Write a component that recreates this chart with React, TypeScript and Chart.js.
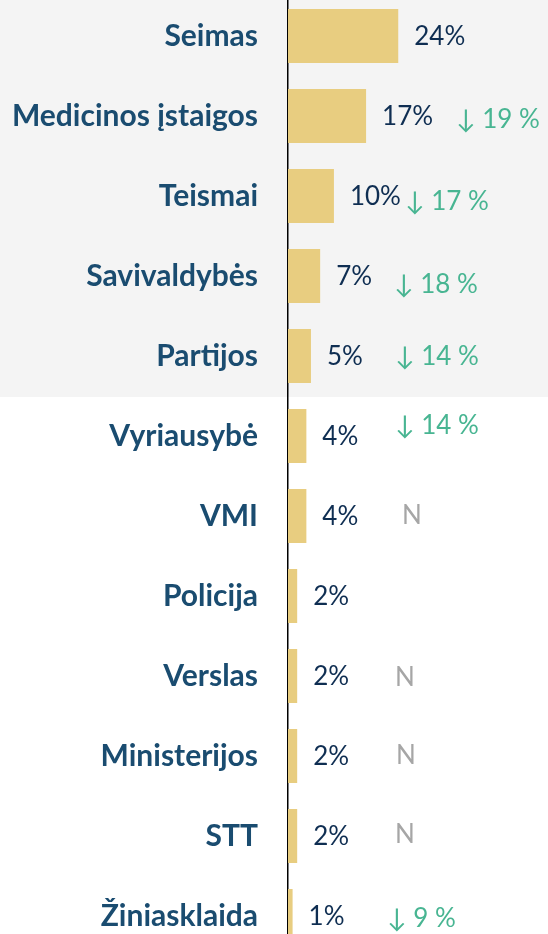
import React, { useEffect, useRef } from "react";
import { Chart, registerables } from "chart.js";

Chart.register(...registerables);

// ---- data ----
const CATEGORIES = [
  "Seimas",
  "Medicinos įstaigos",
  "Teismai",
  "Savivaldybės",
  "Partijos",
  "Vyriausybė",
  "VMI",
  "Policija",
  "Verslas",
  "Ministerijos",
  "STT",
  "Žiniasklaida",
];
const VALUES = [24, 17, 10, 7, 5, 4, 4, 2, 2, 2, 2, 1];
const VALUE_LABELS = ["24%", "17%", "10%", "7%", "5%", "4%", "4%", "2%", "2%", "2%", "2%", "1%"];
const CHANGES = ["", "↓ 19 %", "↓ 17 %", "↓ 18 %", "↓ 14 %", "↓ 14 %", "N", "", "N", "N", "N", "↓ 9 %"];
const HIGHLIGHTED_ROWS = 5;

// ---- layout / style ----
const FONT = "Lato, 'Open Sans', sans-serif";
const LABEL_COLOR = "#1A4C70";
const VALUE_COLOR = "#0F2E52";
const GREEN = "#48B592";
const GREY = "#A6A6A6";
const BAR_COLOR = "#E8CD80";
const BAND_COLOR = "#F4F4F4";
// note placement relative to the value axis origin (px) and row centre (px)
const NOTE_X = [0, 168, 117, 106, 107, 107, 114, 0, 107, 108, 107, 99];
const NOTE_DY = [0, 3, 5, 8, 0, -11, -1, 0, 1, -1, -2, 2];

const bandPlugin = {
  id: "band",
  beforeDraw(chart: any) {
    const { ctx, width } = chart;
    const y = chart.scales.y;
    const bottom = y.getPixelForValue(HIGHLIGHTED_ROWS - 0.5) + 1;
    ctx.save();
    ctx.fillStyle = BAND_COLOR;
    ctx.fillRect(0, 0, width, bottom);
    ctx.restore();
  },
};

const labelPlugin = {
  id: "labels",
  afterDatasetsDraw(chart: any) {
    const { ctx } = chart;
    const meta = chart.getDatasetMeta(0);
    const origin = chart.scales.x.getPixelForValue(0);
    ctx.save();
    ctx.textBaseline = "middle";
    ctx.textAlign = "left";
    meta.data.forEach((bar: any, i: number) => {
      ctx.font = `26px ${FONT}`;
      ctx.fillStyle = VALUE_COLOR;
      ctx.fillText(VALUE_LABELS[i], bar.x + 16, bar.y + 1);
      const note = CHANGES[i];
      if (note) {
        ctx.fillStyle = note === "N" ? GREY : GREEN;
        ctx.fillText(note, origin + NOTE_X[i], bar.y + NOTE_DY[i] + 1);
      }
    });
    ctx.restore();
  },
};

export default function App() {
  const ref = useRef<HTMLCanvasElement | null>(null);

  useEffect(() => {
    if (!ref.current) return;
    const chart = new Chart(ref.current, {
      type: "bar",
      data: {
        labels: CATEGORIES,
        datasets: [
          {
            data: VALUES,
            backgroundColor: BAR_COLOR,
            borderWidth: 0,
            barPercentage: 0.675,
            categoryPercentage: 1,
          },
        ],
      },
      options: {
        indexAxis: "y",
        animation: false,
        responsive: true,
        maintainAspectRatio: false,
        layout: { padding: 0 },
        plugins: {
          legend: { display: false },
          tooltip: { enabled: false },
        },
        scales: {
          x: {
            display: false,
            min: 0,
            max: 56.6,
          },
          y: {
            type: "category",
            grid: { display: false, drawTicks: false },
            border: { display: true, color: "#000000", width: 1.5 },
            ticks: {
              padding: 30,
              color: LABEL_COLOR,
              font: { family: FONT, size: 30, weight: "bold" },
            },
            afterFit: (scale: any) => {
              scale.width = 288;
              scale.paddingTop = 0;
              scale.paddingBottom = 0;
            },
          },
        },
      },
      plugins: [bandPlugin, labelPlugin],
    });
    return () => chart.destroy();
  }, []);

  return (
    <div style={{ position: "fixed", left: 0, top: -4, width: 548, height: 960 }}>
      <canvas ref={ref} />
    </div>
  );
}
